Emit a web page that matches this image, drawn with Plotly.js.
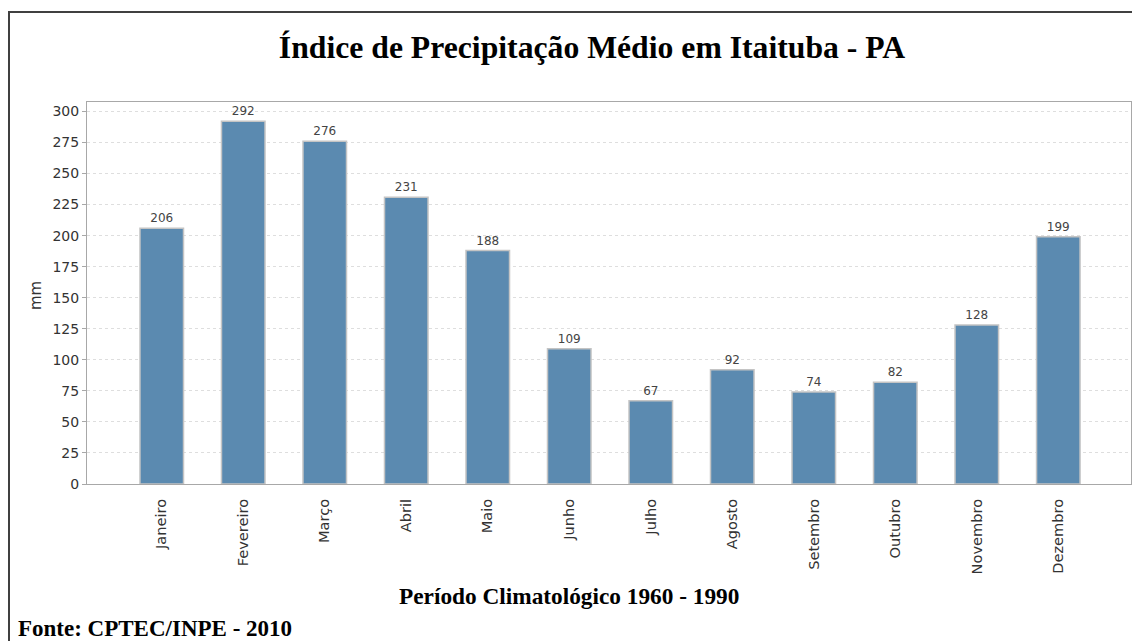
<!DOCTYPE html>
<html>
<head>
<meta charset="utf-8">
<script src="https://cdn.plot.ly/plotly-3.0.1.min.js"></script>
<style>
  html, body { margin: 0; padding: 0; background: #ffffff; }
  #wrap { position: relative; width: 1132px; height: 641px; overflow: hidden; }
  #chart { position: absolute; left: 0; top: 0; width: 1132px; height: 641px; }
  #frame { position: absolute; left: 8px; top: 11px; width: 1130px; height: 640px;
           border-left: 2px solid #404040; border-top: 2px solid #404040; pointer-events: none; }
</style>
</head>
<body>
<div id="wrap">
  <div id="chart"></div>
  <div id="frame"></div>
</div>
<script>
const months = ["Janeiro", "Fevereiro", "Março", "Abril", "Maio", "Junho",
                "Julho", "Agosto", "Setembro", "Outubro", "Novembro", "Dezembro"];
const precipitation = [206, 292, 276, 231, 188, 109, 67, 92, 74, 82, 128, 199];
const yTicks = [0, 25, 50, 75, 100, 125, 150, 175, 200, 225, 250, 275, 300];

const titleText = "Índice de Precipitação Médio em Itaituba - PA";
const xTitleText = "Período Climatológico 1960 - 1990";
const yTitleText = "mm";
const sourceText = "Fonte: CPTEC/INPE - 2010";

// plot area in pixels
const L = 87, R = 1131, T = 102, B = 484, W = 1132, H = 641;
const px2x = px => (px - L) / (R - L);
const py2y = py => (B - py) / (B - T);

const trace = {
  type: "bar",
  x: months,
  y: precipitation,
  width: 0.534,
  marker: { color: "#5b8ab0", line: { color: "#c4c4c4", width: 1.5 } },
  text: precipitation.map(String),
  textposition: "outside",
  cliponaxis: false,
  textfont: { family: "DejaVu Sans", size: 12, color: "#444444" },
  hoverinfo: "x+y"
};

const sansTick = { family: "DejaVu Sans", size: 14, color: "#333333" };
const serifBold = { family: "Liberation Serif, Times New Roman, serif", color: "#000000" };

const layout = {
  width: W, height: H,
  margin: { l: L, r: W - R, t: T, b: H - B, pad: 0 },
  paper_bgcolor: "#ffffff",
  plot_bgcolor: "#ffffff",
  showlegend: false,
  bargap: 0,
  title: {
    text: "<b>" + titleText + "</b>",
    font: Object.assign({ size: 31.7 }, serifBold),
    xref: "container", yref: "container",
    x: 592 / W, y: 1 - 47 / H,
    xanchor: "center", yanchor: "middle"
  },
  xaxis: {
    type: "category",
    range: [-0.917, 11.892],
    tickangle: -90,
    tickfont: { family: "DejaVu Sans", size: 14.6, color: "#333333" },
    ticks: "",
    ticklabelstandoff: 8,
    showgrid: false,
    showline: true, mirror: true, linecolor: "#a8a8a8", linewidth: 1,
    zeroline: false,
    automargin: false
  },
  yaxis: {
    range: [0, 307.6],
    tickvals: yTicks,
    ticktext: yTicks.map(String),
    tickfont: sansTick,
    ticks: "outside", ticklen: 4, tickcolor: "#a8a8a8", tickwidth: 1,
    showgrid: true, gridcolor: "#dedede", gridwidth: 1, griddash: "3px,3px",
    showline: true, mirror: true, linecolor: "#a8a8a8", linewidth: 1,
    zeroline: false,
    automargin: false
  },
  annotations: [
    {
      text: "<b>" + xTitleText + "</b>",
      xref: "paper", yref: "paper",
      x: px2x(569), y: py2y(596),
      xanchor: "center", yanchor: "middle",
      showarrow: false,
      font: Object.assign({ size: 23.3 }, serifBold)
    },
    {
      text: yTitleText,
      xref: "paper", yref: "paper",
      x: px2x(36), y: py2y(296),
      xanchor: "center", yanchor: "middle",
      textangle: -90,
      showarrow: false,
      font: { family: "DejaVu Sans", size: 15, color: "#333333" }
    },
    {
      text: "<b>" + sourceText + "</b>",
      xref: "paper", yref: "paper",
      x: px2x(16), y: py2y(628),
      xanchor: "left", yanchor: "middle",
      showarrow: false,
      font: Object.assign({ size: 23 }, serifBold)
    }
  ]
};

Plotly.newPlot("chart", [trace], layout, { displayModeBar: false, staticPlot: true });
</script>
</body>
</html>
